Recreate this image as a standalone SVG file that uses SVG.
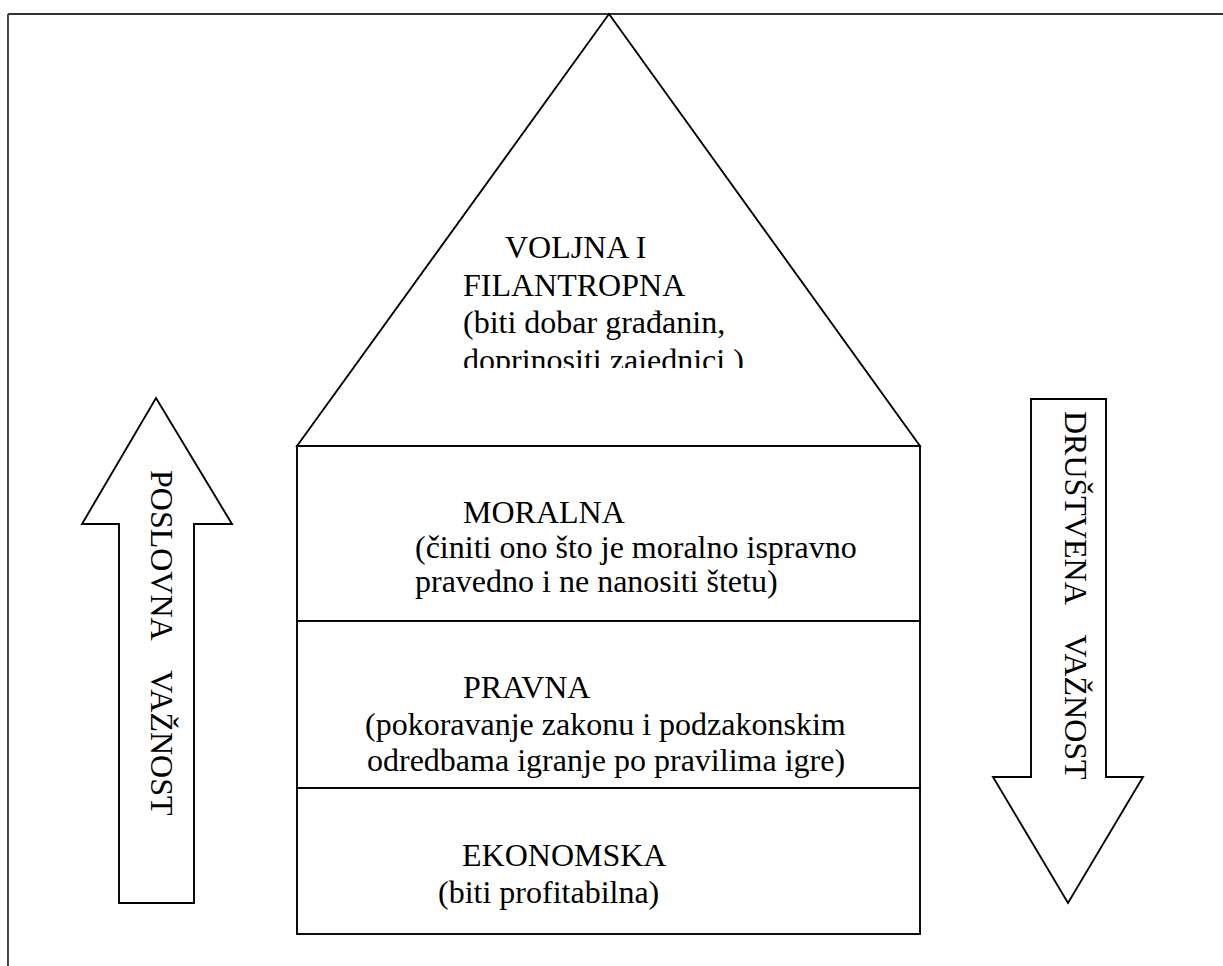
<svg xmlns="http://www.w3.org/2000/svg" width="1223" height="966" viewBox="0 0 1223 966">
<style>
.sh{fill:#fff;stroke:#000;stroke-width:1.9;stroke-linejoin:miter}
text{font-family:'Liberation Serif','Times New Roman','DejaVu Serif',serif;font-size:32px;fill:#000}
</style>
<defs>
<clipPath id="triclip"><rect x="297" y="14" width="623" height="354"/></clipPath>
</defs>
<rect x="0" y="0" width="1223" height="966" fill="#fff"/>
<g id="frame">
<path d="M8,14 H1223 M8,14 V966" fill="none" stroke="#333" stroke-width="1.8"/>
</g>
<g id="voljna">
<polygon class="sh" points="609,14 920,446 297,446"/>
<g clip-path="url(#triclip)" font-family="Liberation Serif, serif">
<text x="505" y="258">VOLJNA I</text>
<text x="463" y="296">FILANTROPNA</text>
<text x="463" y="333">(biti dobar građanin,</text>
<text x="463" y="371">doprinositi zajednici )</text>
</g>
</g>
<g id="moralna" font-family="Liberation Serif, serif">
<rect class="sh" x="297" y="446" width="623" height="175"/>
<text x="463" y="523">MORALNA</text>
<text x="415" y="558">(činiti ono što je moralno ispravno</text>
<text x="415" y="592">pravedno i ne nanositi štetu)</text>
</g>
<g id="pravna" font-family="Liberation Serif, serif">
<rect class="sh" x="297" y="621" width="623" height="167"/>
<text x="463" y="698">PRAVNA</text>
<text x="365" y="735">(pokoravanje zakonu i podzakonskim</text>
<text x="367" y="771">odredbama igranje po pravilima igre)</text>
</g>
<g id="ekonomska" font-family="Liberation Serif, serif">
<rect class="sh" x="297" y="788" width="623" height="146"/>
<text x="462" y="866">EKONOMSKA</text>
<text x="438" y="903">(biti profitabilna)</text>
</g>
<g id="connectors" font-family="Liberation Serif, serif">
<g id="poslovna">
<polygon class="sh" points="156,398 232,524 194,524 194,903 119,903 119,524 82,524"/>
<text x="151" y="470" transform="rotate(90 151 470)" xml:space="preserve">POSLOVNA    VAŽNOST</text>
</g>
<g id="drustvena">
<polygon class="sh" points="1031,399 1106,399 1106,777 1143,777 1068,903 993,777 1031,777"/>
<text x="1065" y="411" transform="rotate(90 1065 411)" xml:space="preserve">DRUŠTVENA    VAŽNOST</text>
</g>
</g>
</svg>
